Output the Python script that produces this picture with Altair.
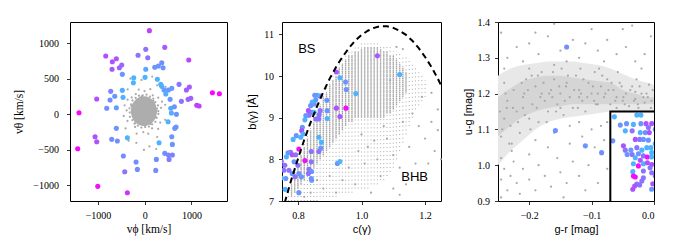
import altair as alt
import pandas as pd

GRAY = "#a9a9a9"
MINUS = "replace(datum.label, '-', '\u2212')"

# ---------------- Panel 1: v_phi vs v_theta ----------------
p1_core_x = [-303, -278, -238, -188, -128, -73, -18, 37, 92, 152, 202, 242, 267]
p1_core_hi = [45, 131, 179, 213, 239, 251, 255, 251, 239, 213, 179, 131, 45]
p1_core_lo = [45, -41, -89, -123, -149, -161, -165, -161, -149, -123, -89, -41, 45]
p1_gray_x = [290, 282, 227, 183, 111, 38, -44, -125, -195, -263, -292, -327, -322, -318, -263, -219,
             -148, -74, 8, 89, 159, 227, 256, 291,
             347, 288, 171, -5, -192, -368, -388, -370, -207, -32, 156, 332, 369, 119, -129, -280,
             -450, -174, 74, 287,
             436, 267, -70, -366, -431, -411, -180, 101, 267, 437, 445, -307, -18, 245, 159, -346,
             263, 183, -67, -286, -201, 124, 240]
p1_gray_y = [45, 125, 172, 222, 249, 277, 267, 262, 231, 196, 139, 85, 25, -35, -82, -132,
             -160, -187, -177, -172, -141, -106, -49, 5,
             92, 234, 268, 328, 286, 206, 55, -93, -178, -249, -196, -116, 178, 355, 349, 238,
             -23, -271, -273, -205,
             135, 409, 484, 351, 127, -198, -401, -451, -319, -77, 386, 502, -501, -488, 532, -373,
             81, 193, 252, 117, -116, -137, -44]
p1_vphi = [99, 21, 428, -835, -143, 64, -694, -608, 942, -700, -544, -493, -480, 21, 214, 291, 364, 392,
           -236, 6, 270, -244, 343, 364, 413, 506, 578, 450, 542, 734, 955, 891, 784, 927, 985, 1113, 1163,
           1448, 1597, -728, -480, -642, -743, -465, -1028, -814, -608, 557, 634, 677, -1407, 570, 499,
           -608, 642, 670, -372, -1064, -1028, -707, -587, 578, 591, 306, -1435, -458, 428, 506, 591, 520,
           248, -186, -158, -428, 235, -1006, -372]
p1_vtheta = [1178, 915, 943, 821, 831, 797, 741, 783, 765, 634, 656, 694, 563, 634, 662, 680, 727, 656,
             515, 521, 493, 445, 422, 394, 342, 342, 366, 286, 211, 422, 385, 342, 183, 211, 225, 127, 117,
             304, 290, 324, 338, 254, 201, 239, 215, 85, 93, 85, 107, 0, 23, 18, -104,
             -197, -197, -179, -330, -315, -386, -352, -376, -315, -423, -400, -484, -587, -549, -573, -573, -634,
             -634, -672, -775, -808, -789, -1014, -1104]
p1_t = [0.75, 0.55, 0.65, 0.7, 0.55, 0.55, 0.68, 0.68, 0.72, 0.65, 0.62, 0.6, 0.42, 0.35, 0.42, 0.42, 0.45, 0.42,
        0.3, 0.3, 0.3, 0.3, 0.3, 0.32, 0.38, 0.4, 0.4, 0.32, 0.4, 0.55, 0.65, 0.65, 0.55, 0.62, 0.62, 0.75, 0.75,
        0.98, 0.98, 0.48, 0.32, 0.42, 0.45, 0.3, 0.7, 0.45, 0.38, 0.35, 0.42, 0.42, 0.98, 0.32, 0.3,
        0.42, 0.42, 0.42, 0.3, 0.68, 0.68, 0.45, 0.45, 0.42, 0.42, 0.3, 0.98, 0.45, 0.45, 0.48, 0.5, 0.5,
        0.45, 0.45, 0.45, 0.55, 0.45, 0.95, 0.8]

# ---------------- Panel 2: c(gamma) vs b(gamma) ----------------
p2_dense_c = [0.78, 0.79, 0.80, 0.81, 0.82, 0.83, 0.84, 0.85, 0.86, 0.87, 0.88, 0.89, 0.90, 0.91, 0.92, 0.93,
              0.94, 0.95, 0.96, 0.97, 0.98, 0.99, 1.00, 1.01, 1.02, 1.03, 1.04, 1.05, 1.06, 1.07, 1.08, 1.09,
              1.10, 1.11, 1.12, 1.13, 1.14]
p2_dense_lo = [7.1, 7.2, 7.3, 7.4, 7.5, 7.6, 7.7, 7.8, 7.9, 8.0, 8.1, 8.2, 8.3, 8.4, 8.5, 8.6,
               8.7, 8.8, 8.9, 8.9, 9.0, 9.0, 9.0, 9.0, 9.0, 9.0, 9.0, 9.0, 9.0, 9.0, 9.1, 9.1,
               9.2, 9.3, 9.4, 9.5, 9.6]
p2_dense_hi = [7.4, 7.7, 7.9, 8.1, 8.3, 8.5, 8.7, 8.9, 9.1, 9.3, 9.5, 9.6, 9.8, 9.9, 10.0, 10.2,
               10.3, 10.4, 10.5, 10.5, 10.6, 10.6, 10.65, 10.7, 10.7, 10.7, 10.7, 10.7, 10.65, 10.6, 10.6, 10.5,
               10.5, 10.4, 10.3, 10.2, 10.1]
p2_sparse_c = [0.77, 0.78, 0.79, 0.80, 0.81, 0.82, 0.83, 0.84, 0.85, 0.86, 0.87, 0.88, 0.89, 0.90, 0.91, 0.92,
               0.93, 0.94, 0.95, 0.96, 0.97, 0.98, 0.99, 1.00, 1.01, 1.02, 1.03, 1.04, 1.05, 1.06, 1.07, 1.08,
               1.09, 1.10, 1.11, 1.12, 1.13, 1.14, 1.15, 1.16, 1.17, 1.18, 1.19, 1.20]
p2_sparse_lo = [7.0, 7.0, 7.0, 7.0, 7.0, 7.0, 7.0, 7.0, 7.0, 7.0, 7.1, 7.1, 7.1, 7.1, 7.1, 7.1,
                7.2, 7.2, 7.2, 7.2, 7.2, 7.3, 7.3, 7.3, 7.3, 7.3, 7.4, 7.4, 7.4, 7.5, 7.5, 7.6,
                7.7, 7.8, 8.0, 8.2, 8.4, 8.6, 8.8, 9.0, 9.2, 9.3, 9.4, 9.5]
p2_sparse_hi = [7.3, 7.5, 7.8, 8.0, 8.2, 8.4, 8.6, 8.8, 9.0, 9.2, 9.4, 9.6, 9.8, 9.9, 10.0, 10.2,
                10.3, 10.4, 10.5, 10.6, 10.65, 10.7, 10.75, 10.8, 10.8, 10.8, 10.8, 10.8, 10.8, 10.75, 10.75, 10.7,
                10.7, 10.6, 10.6, 10.55, 10.5, 10.45, 10.4, 10.3, 10.2, 10.1, 10.0, 9.9]
p2_gray_c = [1.0, 1.02, 1.05, 1.08, 1.1, 1.12, 1.15, 1.18, 1.2, 1.22, 1.24, 1.23, 1.21, 1.18, 1.14, 1.1,
             1.06, 1.03, 0.98, 0.96, 0.99, 1.01, 1.07, 1.13, 1.16, 1.19, 1.22, 1.24, 1.25, 1.17, 1.12, 1.04,
             0.94, 0.92, 0.9, 0.88, 0.86, 0.84, 0.82, 1.09, 1.11, 1.13]
p2_gray_b = [8.6, 8.3, 8.0, 8.5, 8.1, 7.8, 8.3, 8.8, 8.5, 8.9, 9.2, 8.2, 7.9, 7.5, 7.4, 7.3,
             7.6, 7.2, 7.4, 7.8, 8.2, 7.9, 8.8, 8.9, 9.1, 9.5, 9.6, 8.7, 8.0, 7.9, 7.15, 8.45,
             7.5, 7.2, 7.6, 7.3, 7.5, 7.2, 7.1, 9.9, 10.7, 10.65]
p2_curve_c = [0.75, 0.76, 0.78, 0.80, 0.82, 0.84, 0.86, 0.88, 0.90, 0.92, 0.94, 0.96, 0.98, 1.00, 1.02,
              1.04, 1.06, 1.08, 1.10, 1.12, 1.14, 1.16, 1.18, 1.20, 1.22, 1.24, 1.25]
p2_curve_b = [6.73, 7.0, 7.53, 8.01, 8.47, 8.89, 9.27, 9.62, 9.94, 10.22, 10.46, 10.67, 10.85, 10.99, 11.09,
              11.16, 11.2, 11.2, 11.16, 11.09, 10.99, 10.85, 10.67, 10.46, 10.22, 9.94, 9.78]
p2_c = [0.921, 0.932, 0.950, 0.952, 0.982, 1.050, 1.120, 0.870, 0.861, 0.856, 0.851, 0.845, 0.840, 0.891,
        0.921, 0.951, 0.932, 0.870, 0.867, 0.892, 0.892, 0.833, 0.835, 0.845, 0.856, 0.866, 0.825, 0.822,
        0.814, 0.812, 0.816, 0.809, 0.795, 0.785, 0.866, 0.874, 0.872, 0.842, 0.866, 0.803, 0.777, 0.782,
        0.769, 0.764, 0.793, 0.788, 0.822, 0.835, 0.843, 0.833, 0.800, 0.803, 0.782, 0.791, 0.772, 0.759,
        0.756, 0.762, 0.843, 0.924, 0.932, 0.760, 0.803, 0.811, 0.842, 0.842, 0.851, 0.853, 0.748, 0.748]
p2_b = [10.10, 9.96, 9.86, 9.68, 9.58, 10.49, 10.04, 9.52, 9.54, 9.43, 9.33, 9.38, 9.29, 9.42,
        9.23, 9.23, 9.03, 9.17, 9.07, 9.17, 8.98, 9.17, 9.06, 9.13, 8.97, 8.97, 9.05, 8.95,
        8.77, 8.69, 8.61, 8.53, 8.57, 8.48, 8.53, 8.41, 8.27, 8.19, 8.19, 8.25, 8.17, 8.11,
        8.16, 8.06, 8.11, 7.94, 7.97, 7.76, 7.71, 7.66, 7.86, 7.66, 7.66, 7.58, 7.74, 7.86,
        7.74, 7.54, 7.50, 7.90, 7.95, 7.28, 7.20, 7.58, 7.54, 7.94, 9.13, 9.54, 7.95, 7.55]
p2_t = [0.65, 0.3, 0.42, 0.42, 0.3, 0.65, 0.3, 0.6, 0.3, 0.42, 0.42, 0.3, 0.42, 0.42,
        0.68, 0.95, 0.65, 0.55, 0.55, 0.42, 0.3, 0.68, 0.55, 0.55, 0.55, 0.55, 0.42, 0.3,
        0.42, 0.68, 0.3, 0.3, 0.42, 0.3, 0.3, 0.3, 0.42, 0.55, 0.55, 0.95, 0.55, 0.68,
        0.42, 0.3, 0.55, 0.42, 0.95, 0.55, 0.42, 0.55, 0.55, 0.42, 0.42, 0.55, 0.55, 0.55,
        0.55, 0.42, 0.42, 0.42, 0.3, 0.3, 0.42, 0.42, 0.42, 0.55, 0.3, 0.42, 0.6, 0.3]
p2_labels = ["BS", "BHB"]
p2_label_c = [0.828, 1.167]
p2_label_b = [10.64, 7.58]

# ---------------- Panel 3: g-r vs u-g ----------------
p3_band_g = [-0.25, -0.23, -0.21, -0.19, -0.17, -0.15, -0.13, -0.11, -0.09, -0.07, -0.05, -0.03, -0.01, 0.0]
p3_outer_hi = [1.25, 1.27, 1.28, 1.285, 1.29, 1.29, 1.29, 1.285, 1.28, 1.27, 1.255, 1.24, 1.23, 1.225]
p3_outer_lo = [1.0, 1.04, 1.07, 1.10, 1.12, 1.13, 1.135, 1.14, 1.145, 1.15, 1.15, 1.15, 1.15, 1.15]
p3_inner_hi = [1.19, 1.215, 1.235, 1.245, 1.25, 1.25, 1.245, 1.24, 1.235, 1.23, 1.21, 1.2, 1.19, 1.19]
p3_inner_lo = [1.08, 1.11, 1.135, 1.15, 1.16, 1.165, 1.17, 1.17, 1.17, 1.17, 1.17, 1.17, 1.17, 1.17]
p3_gray_g = [-0.235, -0.22, -0.2, -0.185, -0.17, -0.15, -0.13, -0.12, -0.1, -0.09, -0.075, -0.06, -0.045,
             -0.03, -0.015, -0.005, -0.16, -0.05, -0.21, -0.14, -0.08, -0.02, -0.24, -0.11, -0.19, -0.035,
             -0.245, -0.245, -0.24, -0.245, -0.235, -0.23, -0.225, -0.22, -0.215, -0.21, -0.2, -0.2, -0.19,
             -0.185, -0.175, -0.17, -0.165, -0.155, -0.15, -0.14, -0.135, -0.13, -0.12, -0.115, -0.105, -0.1,
             -0.095, -0.085, -0.08, -0.075, -0.09, -0.11, -0.145, -0.245, -0.228, -0.19, -0.16, -0.135, -0.12,
             -0.075, -0.245, -0.24, -0.235, -0.23, -0.225, -0.22, -0.215, -0.21, -0.205, -0.2, -0.195, -0.19,
             -0.185, -0.18, -0.175, -0.17, -0.165, -0.16, -0.155, -0.15, -0.145, -0.14, -0.135, -0.13, -0.125,
             -0.12, -0.115, -0.11, -0.105, -0.1, -0.095, -0.09, -0.085, -0.08, -0.075, -0.07, -0.065, -0.06,
             -0.055, -0.05, -0.045, -0.04, -0.035, -0.03, -0.025, -0.02, -0.015, -0.01, -0.005, -0.002, -0.228,
             -0.198, -0.172, -0.148, -0.118, -0.088, -0.058, -0.028, -0.24, -0.2, -0.16, -0.21, -0.18, -0.15,
             -0.12, -0.09, -0.06, -0.03, -0.008,
             -0.247, -0.243, -0.238, -0.232, -0.226, -0.218, -0.212, -0.207, -0.202, -0.196, -0.188, -0.182,
             -0.177, -0.168, -0.162, -0.157, -0.152, -0.143, -0.138, -0.128, -0.122, -0.113, -0.107, -0.098,
             -0.093, -0.083, -0.078, -0.068, -0.062, -0.052, -0.047, -0.038, -0.032, -0.023, -0.017, -0.012,
             -0.004, -0.236, -0.208, -0.186, -0.163, -0.141, -0.117, -0.096, -0.073, -0.049, -0.026]
p3_gray_u = [1.30, 1.33, 1.34, 1.31, 1.36, 1.32, 1.35, 1.30, 1.38, 1.32, 1.35, 1.31, 1.33,
             1.29, 1.31, 1.36, 1.395, 1.38, 1.29, 1.29, 1.29, 1.27, 1.27, 1.34, 1.37, 1.39,
             1.37, 1.02, 0.99, 0.96, 0.93, 0.97, 1.01, 0.95, 0.92, 0.99, 0.96, 1.03, 0.93,
             1.0, 0.97, 1.05, 0.94, 1.02, 0.98, 0.95, 1.06, 1.01, 0.97, 1.08, 1.0, 1.1,
             1.05, 1.11, 1.07, 0.99, 0.95, 0.93, 0.91, 0.91, 1.04, 1.07, 1.09, 1.11, 1.12,
             1.12, 1.08, 1.13, 1.18, 1.11, 1.21, 1.15, 1.09, 1.19, 1.24, 1.13, 1.17, 1.22,
             1.12, 1.26, 1.18, 1.15, 1.21, 1.24, 1.17, 1.2, 1.14, 1.23, 1.19, 1.16, 1.25,
             1.21, 1.18, 1.15, 1.23, 1.2, 1.26, 1.17, 1.22, 1.19, 1.24, 1.17, 1.21, 1.19,
             1.23, 1.18, 1.2, 1.165, 1.22, 1.185, 1.16, 1.2, 1.175, 1.19, 1.16, 1.21, 1.06,
             1.1, 1.12, 1.27, 1.27, 1.27, 1.26, 1.24, 1.23, 1.27, 1.28, 1.16, 1.2, 1.16,
             1.19, 1.2, 1.16, 1.205, 1.225,
             1.15, 1.1, 1.2, 1.06, 1.16, 1.12, 1.23, 1.14, 1.21, 1.25, 1.16, 1.19,
             1.23, 1.2, 1.26, 1.15, 1.22, 1.18, 1.25, 1.21, 1.16, 1.24, 1.19, 1.22,
             1.17, 1.25, 1.2, 1.23, 1.18, 1.22, 1.17, 1.21, 1.18, 1.22, 1.19, 1.2,
             1.18, 1.16, 1.2, 1.25, 1.19, 1.22, 1.2, 1.18, 1.21, 1.19, 1.17]
p3_box_g = [-0.07, -0.07, 0.0]
p3_box_u = [0.9, 1.15, 1.15]
p3_g = [-0.140, -0.158, -0.110, -0.084, -0.066, -0.0635, -0.0275, -0.021, -0.054, -0.044, -0.033, -0.021,
        -0.0127, -0.0037, -0.009, -0.046, -0.035, -0.022, -0.014, -0.0075, -0.030, -0.023, -0.017, -0.009,
        -0.049, -0.046, -0.037, -0.0275, -0.0195, -0.0116, -0.005, -0.0037, -0.043, -0.035, -0.025, -0.017,
        -0.0106, -0.0037, -0.030, -0.022, -0.033, -0.025, -0.017, -0.0106, -0.0037, -0.0063, -0.034, -0.017,
        -0.033, -0.030, -0.017, -0.0037, -0.002, -0.0195, -0.0275, -0.034, -0.0037, -0.031, -0.023, 0.002,
        0.002, 0.002]
p3_u = [1.330, 1.097, 1.054, 1.035, 1.068, 1.135, 1.140, 1.140, 1.112, 1.116, 1.114, 1.116,
        1.116, 1.116, 1.105, 1.096, 1.096, 1.091, 1.091, 1.091, 1.072, 1.072, 1.072, 1.070,
        1.054, 1.042, 1.042, 1.049, 1.042, 1.049, 1.049, 1.035, 1.030, 1.030, 1.032, 1.026,
        1.023, 1.023, 1.021, 1.014, 1.004, 0.998, 1.004, 1.007, 1.002, 0.993, 0.982, 0.984,
        0.970, 0.967, 0.965, 0.979, 0.948, 0.956, 0.947, 0.933, 0.933, 0.942, 0.945, 0.97,
        1.06, 1.10]
p3_t = [0.45, 0.42, 0.42, 0.45, 0.42, 0.3, 0.3, 0.3, 0.42, 0.42, 0.3, 0.42,
        0.68, 0.68, 0.55, 0.3, 0.55, 0.3, 0.42, 0.68, 0.68, 0.55, 0.42, 0.42,
        0.68, 0.55, 0.42, 0.55, 0.3, 0.3, 0.3, 0.3, 0.42, 0.55, 0.42, 0.55,
        0.95, 0.3, 0.3, 0.68, 0.3, 0.95, 0.3, 0.68, 0.68, 0.55, 0.3, 0.55,
        0.95, 0.95, 0.55, 0.55, 0.68, 0.55, 0.55, 0.68, 0.42, 0.68, 0.55, 0.6,
        0.3, 0.42]

# ---------------- helpers ----------------
color_scale = alt.Scale(domain=[0, 1], range=["#00ffff", "#ff00ff"], interpolate="rgb")


def axis(title, values, fmt, title_font, title_size, title_pad, label_pad):
    return alt.Axis(title=title, values=values, format=fmt, grid=False, domain=False,
                    tickSize=3.5, tickColor="black", tickWidth=0.8,
                    labelFont="Liberation Serif", labelFontSize=10, labelColor="black",
                    labelPadding=label_pad, labelExpr=MINUS, titleFont=title_font,
                    titleFontSize=title_size, titleFontWeight="normal", titleColor="black",
                    titlePadding=title_pad)


W1, W2, W3, H = 157, 159, 156, 179
PT = 26
GS = 5

# Panel 1
d1_core = pd.DataFrame({"x": p1_core_x, "hi": p1_core_hi, "lo": p1_core_lo})
d1_gray = pd.DataFrame({"x": p1_gray_x, "y": p1_gray_y})
d1_col = pd.DataFrame({"x": p1_vphi, "y": p1_vtheta, "t": p1_t})
xs1 = alt.Scale(domain=[-1600, 1760], nice=False, zero=False)
ys1 = alt.Scale(domain=[-1220, 1300], nice=False, zero=False)
x1 = alt.X("x:Q", scale=xs1, axis=axis("v\u03d5 [km/s]", [-1000, 0, 1000], "d", "Liberation Serif", 11.5, 3, 6))
y1ax = axis("v\u03b8 [km/s]", [-1000, -500, 0, 500, 1000], "d", "Liberation Serif", 11.5, 8, 8)
y1 = alt.Y("y:Q", scale=ys1, axis=y1ax)
core = alt.Chart(d1_core).mark_area(color=GRAY, opacity=0.95, interpolate="basis").encode(
    x=x1, y=alt.Y("hi:Q", scale=ys1, axis=y1ax), y2="lo:Q")
g1 = alt.Chart(d1_gray).mark_circle(size=GS, color=GRAY, opacity=1).encode(x=x1, y=y1)
c1 = alt.Chart(d1_col).mark_circle(size=PT, opacity=1, clip=True).encode(
    x=x1, y=y1, color=alt.Color("t:Q", scale=color_scale, legend=None))
panel1 = alt.layer(core, g1, c1).properties(width=W1, height=H)

# Panel 2
d2_dense = pd.DataFrame({"x": p2_dense_c, "lo": p2_dense_lo, "hi": p2_dense_hi})
d2_sparse = pd.DataFrame({"x": p2_sparse_c, "lo": p2_sparse_lo, "hi": p2_sparse_hi})
d2_gray = pd.DataFrame({"x": p2_gray_c, "y": p2_gray_b})
d2_curve = pd.DataFrame({"x": p2_curve_c, "y": p2_curve_b})
d2_col = pd.DataFrame({"x": p2_c, "y": p2_b, "t": p2_t})
d2_txt = pd.DataFrame({"x": p2_label_c, "y": p2_label_b, "s": p2_labels})
xs2 = alt.Scale(domain=[0.75, 1.25], nice=False, zero=False)
ys2 = alt.Scale(domain=[7, 11.3], nice=False, zero=False)
x2 = alt.X("x:Q", scale=xs2, axis=axis("c(\u03b3)", [0.8, 1.0, 1.2], ".1f", "Liberation Sans", 11, 3, 6))
y2ax = axis("b(\u03b3) [\u00c5]", [7, 8, 9, 10, 11], "d", "Liberation Sans", 11, 6, 5)
y2 = alt.Y("y:Q", scale=ys2, axis=y2ax)
sparse = alt.Chart(d2_sparse).mark_rule(color="#aaaaaa", strokeWidth=1, strokeDash=[1, 3]).encode(
    x=x2, y=alt.Y("lo:Q", scale=ys2, axis=y2ax), y2="hi:Q")
dense = alt.Chart(d2_dense).mark_rule(color="#a9a9a9", strokeWidth=1.4, strokeDash=[1.5, 0.5]).encode(
    x=x2, y=alt.Y("lo:Q", scale=ys2, axis=y2ax), y2="hi:Q")
g2 = alt.Chart(d2_gray).mark_circle(size=GS, color=GRAY, opacity=1).encode(x=x2, y=y2)
curve = alt.Chart(d2_curve).mark_line(color="black", strokeWidth=2, strokeDash=[6, 4], clip=True).encode(
    x=x2, y=y2)
c2 = alt.Chart(d2_col).mark_circle(size=PT, opacity=1, clip=True).encode(
    x=x2, y=y2, color=alt.Color("t:Q", scale=color_scale, legend=None))
txt2 = alt.Chart(d2_txt).mark_text(font="Liberation Sans", fontSize=13, color="black").encode(
    x=x2, y=y2, text="s:N")
panel2 = alt.layer(sparse, dense, g2, c2, curve, txt2).properties(width=W2, height=H)

# Panel 3
d3_band = pd.DataFrame({"x": p3_band_g, "ohi": p3_outer_hi, "olo": p3_outer_lo,
                        "ihi": p3_inner_hi, "ilo": p3_inner_lo})
d3_gray = pd.DataFrame({"x": p3_gray_g, "y": p3_gray_u})
d3_box = pd.DataFrame({"x": p3_box_g, "y": p3_box_u, "o": [0, 1, 2]})
d3_col = pd.DataFrame({"x": p3_g, "y": p3_u, "t": p3_t})
xs3 = alt.Scale(domain=[-0.25, 0.0], nice=False, zero=False)
ys3 = alt.Scale(domain=[0.9, 1.4], nice=False, zero=False)
x3 = alt.X("x:Q", scale=xs3, axis=axis("g-r [mag]", [-0.2, -0.1, 0.0], ".1f", "Liberation Sans", 11, 3, 6))
y3ax = axis("u-g [mag]", [0.9, 1.0, 1.1, 1.2, 1.3, 1.4], ".1f", "Liberation Sans", 11, 4, 5)
y3 = alt.Y("y:Q", scale=ys3, axis=y3ax)
outer = alt.Chart(d3_band).mark_area(color="#e8e8e8", opacity=1, interpolate="monotone").encode(
    x=x3, y=alt.Y("ohi:Q", scale=ys3, axis=y3ax), y2="olo:Q")
inner = alt.Chart(d3_band).mark_area(color="#d5d5d5", opacity=1, interpolate="monotone").encode(
    x=x3, y=alt.Y("ihi:Q", scale=ys3, axis=y3ax), y2="ilo:Q")
g3 = alt.Chart(d3_gray).mark_circle(size=GS, color=GRAY, opacity=1).encode(x=x3, y=y3)
box = alt.Chart(d3_box).mark_line(color="black", strokeWidth=2).encode(x=x3, y=y3, order="o:Q")
c3 = alt.Chart(d3_col).mark_circle(size=PT, opacity=1, clip=True).encode(
    x=x3, y=y3, color=alt.Color("t:Q", scale=color_scale, legend=None))
panel3 = alt.layer(outer, inner, g3, c3, box).properties(width=W3, height=H)

chart = alt.hconcat(panel1, panel2, panel3, spacing=18).properties(
    padding={"left": 5, "top": 8, "right": 0, "bottom": 0}
).resolve_scale(x="independent", y="independent").configure_view(stroke="black", strokeWidth=1)

chart.save("out.html", embed_options={"renderer": "svg", "actions": False})
